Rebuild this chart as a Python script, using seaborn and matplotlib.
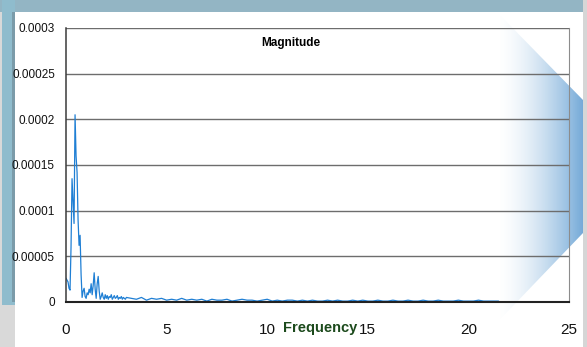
import numpy as np
import pandas as pd
import matplotlib
matplotlib.use("Agg")
import matplotlib.pyplot as plt
from matplotlib.patches import Polygon, Rectangle
import seaborn as sns

# ---- spectrum data (magnitude in units of 1e-6) ----
# fine bins 0 .. 3.0 Hz, step 0.05
head_step = 0.05
head_mag = [26, 24, 22, 15, 13, 60, 135, 110, 86, 205,
            160, 142, 90, 62, 73, 30, 5, 12, 15, 6,
            4, 10, 8, 14, 10, 20, 8, 18, 32, 14,
            4, 20, 28, 12, 3, 6, 10, 5, 3, 8,
            4, 7, 3, 6, 5, 8, 3, 5, 7, 4,
            5, 7, 3, 5, 4, 6, 3, 5, 4, 3,
            5]
# coarse bins 3.25 .. 21.5 Hz, step 0.25
tail_start = 3.25
tail_step = 0.25
tail_mag = [4, 3, 5, 2, 4, 3, 4, 2,
            3, 2, 4, 2, 3, 2, 3, 1,
            3, 2, 2, 3, 1, 2, 3, 2,
            2, 1, 2, 3, 1, 2, 1, 2,
            2, 1, 2, 1, 2, 1, 1, 2,
            1, 2, 1, 1, 2, 1, 2, 1,
            1, 2, 1, 1, 2, 1, 1, 2,
            1, 1, 2, 1, 1, 2, 1, 1,
            1, 2, 1, 1, 1, 2, 1, 1, 1, 1]

x_ticks = [0, 5, 10, 15, 20, 25]
y_ticks = [0, 0.00005, 0.0001, 0.00015, 0.0002, 0.00025, 0.0003]
y_tick_labels = ["0", "0.00005", "0.0001", "0.00015", "0.0002", "0.00025", "0.0003"]
title_text = "Magnitude"
x_label = "Frequency"

head_freq = np.arange(len(head_mag)) * head_step
tail_freq = tail_start + np.arange(len(tail_mag)) * tail_step
df = pd.DataFrame({
    "freq": np.concatenate([head_freq, tail_freq]),
    "mag": np.array(head_mag + tail_mag, dtype=float) * 1e-6,
})

sns.set_style("white")
plt.rcParams["font.family"] = ["Liberation Sans", "DejaVu Sans"]

W, H = 587, 347
fig = plt.figure(figsize=(W / 100, H / 100), dpi=100, facecolor="#d9d9d9")

# ---- decorative slide frame ----
bg = fig.add_axes([0, 0, 1, 1], zorder=0)
bg.axis("off")
bg.add_patch(Rectangle((0, 0), W, H, color="#d9d9d9", lw=0, zorder=1))
bg.add_patch(Rectangle((0, 0), 584, 12, color="#93b5c4", lw=0, zorder=1))
bg.add_patch(Rectangle((2, 0), 13, 305, color="#8fbccd", lw=0, zorder=1))
bg.add_patch(Rectangle((12, 12), 3, 290, color="#7b9ba9", lw=0, zorder=1))
bg.add_patch(Rectangle((15, 12), 568, H - 12, color="white", lw=0, zorder=1))

# blue gradient arrow on the right
arrow = Polygon([(490, 12), (497, 12), (583, 100), (583, 233), (487, 333), (487, 12)],
                closed=True, facecolor="none", edgecolor="none", zorder=1)
bg.add_patch(arrow)
ramp = np.linspace(0, 1, 200) ** 1.6
grad = np.zeros((1, 200, 4))
grad[..., 0] = 0.46
grad[..., 1] = 0.67
grad[..., 2] = 0.85
grad[..., 3] = ramp
im = bg.imshow(grad, extent=(497, 583, 335, 10), aspect="auto",
               interpolation="bilinear", zorder=2)
im.set_clip_path(arrow)
bg.add_patch(Rectangle((583, 0), 4, H, color="#d6d6d6", lw=0, zorder=3))
bg.set_xlim(0, W)
bg.set_ylim(H, 0)

# ---- main chart ----
ax = fig.add_axes([66 / W, 1 - 302 / H, 503 / W, 274 / H], zorder=1)
ax.set_facecolor("none")
sns.lineplot(data=df, x="freq", y="mag", ax=ax, color="#1f7fd4", lw=0.9)

ax.set_xlim(0, 25)
ax.set_ylim(0, 0.0003)
ax.set_xticks(x_ticks)
ax.set_xticklabels([str(t) for t in x_ticks])
ax.set_yticks(y_ticks)
ax.set_yticklabels(y_tick_labels)
ax.grid(axis="y", color="#6d6d6d", lw=1.0)
ax.grid(axis="x", visible=False)
ax.set_axisbelow(True)

ax.tick_params(axis="x", direction="out", length=5, width=0.8, color="#888888",
               labelsize=11, pad=10, labelcolor="#111111")
ax.tick_params(axis="y", direction="out", length=3, width=1.0, color="#6d6d6d",
               labelsize=8.5, pad=5, labelcolor="#111111")

ax.spines["top"].set_visible(False)
ax.spines["left"].set_color("#3a3a3a")
ax.spines["left"].set_linewidth(1.1)
ax.spines["bottom"].set_color("#222222")
ax.spines["bottom"].set_linewidth(1.5)
ax.spines["right"].set_color("#8c8c8c")
ax.spines["right"].set_linewidth(0.8)

ax.set_xlabel(x_label, fontsize=10.5, fontweight="bold", color="#1c4a1c", va="center")
ax.xaxis.set_label_coords(0.505, -0.095)
ax.set_ylabel("")
ax.text(0.447, 0.9325, title_text, transform=ax.transAxes, ha="center", va="baseline",
        fontsize=8.5, fontweight="bold", color="black")

fig.savefig("out.png", dpi=100, facecolor=fig.get_facecolor())
